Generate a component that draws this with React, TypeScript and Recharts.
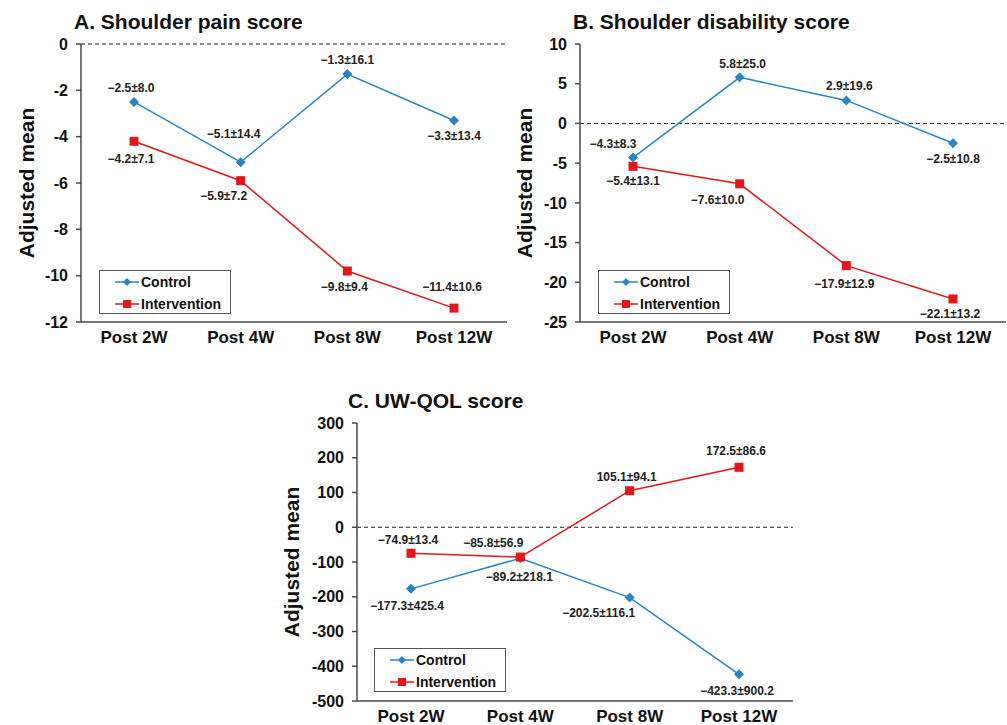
import React from "react";
import {
    LineChart,
    Line,
    XAxis,
    YAxis,
    ReferenceLine,
    LabelList,
    Legend,
} from "recharts";

// time points on the x axis
const timepoints = ["Post 2W", "Post 4W", "Post 8W", "Post 12W"];

// A. shoulder pain
const painControl = [-2.5, -5.1, -1.3, -3.3];
const painControlSd = [8.0, 14.4, 16.1, 13.4];
const painIntervention = [-4.2, -5.9, -9.8, -11.4];
const painInterventionSd = [7.1, 7.2, 9.4, 10.6];
const painTicks = [0, -2, -4, -6, -8, -10, -12];

// B. shoulder disability
const disabilityControl = [-4.3, 5.8, 2.9, -2.5];
const disabilityControlSd = [8.3, 25.0, 19.6, 10.8];
const disabilityIntervention = [-5.4, -7.6, -17.9, -22.1];
const disabilityInterventionSd = [13.1, 10.0, 12.9, 13.2];
const disabilityTicks = [10, 5, 0, -5, -10, -15, -20, -25];

// C. UW-QOL
const qolControl = [-177.3, -89.2, -202.5, -423.3];
const qolControlSd = [425.4, 218.1, 116.1, 900.2];
const qolIntervention = [-74.9, -85.8, 105.1, 172.5];
const qolInterventionSd = [13.4, 56.9, 94.1, 86.6];
const qolTicks = [300, 200, 100, 0, -100, -200, -300, -400, -500];

const BLUE = "#2A84C0";
const RED = "#E3161B";
const AXIS = "#4a4a4a";
const FONT = "'Liberation Sans', Arial, sans-serif";

const fmt = (m: number, sd: number) =>
    `${m < 0 ? "\u2212" : ""}${Math.abs(m).toFixed(1)}\u00B1${sd.toFixed(1)}`;

function buildRows(c: number[], cSd: number[], i: number[], iSd: number[]) {
    return timepoints.map((t, k) => ({
        time: t,
        control: c[k],
        intervention: i[k],
        controlLabel: fmt(c[k], cSd[k]),
        interventionLabel: fmt(i[k], iSd[k]),
    }));
}

const Diamond = (props: any) => {
    const { cx, cy, index } = props;
    if (cx == null || cy == null) return <g key={index} />;
    const r = 5;
    return (
        <polygon
            key={`d${index}`}
            points={`${cx},${cy - r} ${cx + r},${cy} ${cx},${cy + r} ${cx - r},${cy}`}
            fill={BLUE}
        />
    );
};

const Square = (props: any) => {
    const { cx, cy, index } = props;
    if (cx == null || cy == null) return <g key={index} />;
    const s = 9;
    return <rect key={`s${index}`} x={cx - s / 2} y={cy - s / 2} width={s} height={s} fill={RED} />;
};

const makeLabel = (offsets: number[][]) => (p: any) => {
    const { x, y, index, value } = p;
    const [dx, dy] = offsets[index];
    return (
        <text
            key={index}
            x={x + dx}
            y={y + dy}
            textAnchor="middle"
            dominantBaseline="central"
            fontSize={12}
            fontWeight="bold"
            fontFamily={FONT}
            fill="#222"
        >
            {value}
        </text>
    );
};

const LegendBox = () => (
    <div
        style={{
            border: "1.5px solid #555",
            width: 130,
            height: 42,
            background: "#fff",
            fontFamily: FONT,
            fontWeight: "bold",
            fontSize: 14,
            color: "#111",
            position: "relative",
        }}
    >
        {[
            { name: "Control", color: BLUE, diamond: true },
            { name: "Intervention", color: RED, diamond: false },
        ].map((e, k) => (
            <div
                key={e.name}
                style={{ position: "absolute", left: 15, top: 3 + k * 22, height: 16, display: "flex", alignItems: "center" }}
            >
                <svg width={25} height={12}>
                    <line x1={0} y1={6} x2={24} y2={6} stroke={e.color} strokeWidth={1.5} />
                    {e.diamond ? (
                        <polygon points="12,2 16,6 12,10 8,6" fill={e.color} />
                    ) : (
                        <rect x={8} y={2} width={8} height={8} fill={e.color} />
                    )}
                </svg>
                <span style={{ marginLeft: 1, lineHeight: "16px" }}>{e.name}</span>
            </div>
        ))}
    </div>
);

interface PanelProps {
    title: string;
    rows: any[];
    ticks: number[];
    left: number;
    top: number;
    width: number;
    height: number;
    axisWidth: number;
    xAxisHeight: number;
    pad: number;
    marginTop: number;
    marginRight: number;
    labelOffset: number;
    titleX: number;
    titleY: number;
    legendX: number;
    legendY: number;
    ctrlOffsets: number[][];
    intOffsets: number[][];
}

function Panel(p: PanelProps) {
    const tickStyle = { fill: "#111", fontSize: 16, fontWeight: "bold", fontFamily: FONT };
    return (
        <div style={{ position: "absolute", left: p.left, top: p.top, width: p.width, height: p.height }}>
            <div
                style={{
                    position: "absolute",
                    left: p.titleX,
                    top: p.titleY - 12,
                    fontFamily: FONT,
                    fontWeight: "bold",
                    fontSize: 21,
                    lineHeight: "24px",
                    color: "#111",
                    whiteSpace: "nowrap",
                }}
            >
                {p.title}
            </div>
            <LineChart
                width={p.width}
                height={p.height}
                data={p.rows}
                margin={{ top: p.marginTop, right: p.marginRight, left: 0, bottom: 0 }}
            >
                <XAxis
                    dataKey="time"
                    height={p.xAxisHeight}
                    tickLine={false}
                    axisLine={{ stroke: AXIS, strokeWidth: 1.5 }}
                    tick={{ ...tickStyle, fontSize: 17 }}
                    tickMargin={3}
                    padding={{ left: p.pad, right: p.pad }}
                />
                <YAxis
                    width={p.axisWidth}
                    type="number"
                    domain={[p.ticks[p.ticks.length - 1], p.ticks[0]]}
                    ticks={p.ticks}
                    interval={0}
                    tickSize={5}
                    tickMargin={8}
                    tickLine={{ stroke: AXIS, strokeWidth: 1.5 }}
                    axisLine={{ stroke: AXIS, strokeWidth: 1.5 }}
                    tick={tickStyle}
                    label={{
                        value: "Adjusted mean",
                        angle: -90,
                        position: "insideLeft",
                        offset: p.labelOffset,
                        style: { textAnchor: "middle", fontSize: 21, fontWeight: "bold", fontFamily: FONT, fill: "#111" },
                    }}
                />
                <ReferenceLine y={0} stroke="#222" strokeDasharray="4 3" strokeWidth={1} ifOverflow="visible" />
                <Legend
                    layout="vertical"
                    align="center"
                    verticalAlign="middle"
                    wrapperStyle={{ left: p.legendX, top: p.legendY, width: 133, height: 45 }}
                    content={() => <LegendBox />}
                />
                <Line
                    dataKey="control"
                    name="Control"
                    stroke={BLUE}
                    strokeWidth={1.5}
                    dot={Diamond}
                    activeDot={false}
                    isAnimationActive={false}
                >
                    <LabelList dataKey="controlLabel" content={makeLabel(p.ctrlOffsets)} />
                </Line>
                <Line
                    dataKey="intervention"
                    name="Intervention"
                    stroke={RED}
                    strokeWidth={1.5}
                    dot={Square}
                    activeDot={false}
                    isAnimationActive={false}
                >
                    <LabelList dataKey="interventionLabel" content={makeLabel(p.intOffsets)} />
                </Line>
            </LineChart>
        </div>
    );
}

export default function App() {
    return (
        <div style={{ position: "absolute", left: 0, top: 0, width: 1007, height: 725, background: "#fff" }}>
            <Panel
                title="A. Shoulder pain score"
                rows={buildRows(painControl, painControlSd, painIntervention, painInterventionSd)}
                ticks={painTicks}
                left={0}
                top={0}
                width={510}
                height={352}
                axisWidth={81}
                xAxisHeight={30}
                pad={53}
                marginTop={44}
                marginRight={3}
                labelOffset={27}
                titleX={74}
                titleY={22}
                legendX={99}
                legendY={270}
                ctrlOffsets={[[-3, -14], [-7, -28], [0, -14], [0, 16]]}
                intOffsets={[[-3, 18], [-17, 15], [-3, 16], [-2, -21]]}
            />
            <Panel
                title="B. Shoulder disability score"
                rows={buildRows(disabilityControl, disabilityControlSd, disabilityIntervention, disabilityInterventionSd)}
                ticks={disabilityTicks}
                left={500}
                top={0}
                width={507}
                height={352}
                axisWidth={80}
                xAxisHeight={30}
                pad={53}
                marginTop={44}
                marginRight={1}
                labelOffset={25}
                titleX={73}
                titleY={22}
                legendX={98}
                legendY={270}
                ctrlOffsets={[[-20, -14], [3, -13], [3, -14], [0, 16]]}
                intOffsets={[[0, 15], [-22, 16], [-2, 18], [-3, 15]]}
            />
            <Panel
                title="C. UW-QOL score"
                rows={buildRows(qolControl, qolControlSd, qolIntervention, qolInterventionSd)}
                ticks={qolTicks}
                left={270}
                top={380}
                width={530}
                height={345}
                axisWidth={87}
                xAxisHeight={24}
                pad={54}
                marginTop={43}
                marginRight={7}
                labelOffset={22}
                titleX={78}
                titleY={21}
                legendX={104}
                legendY={268}
                ctrlOffsets={[[-4, 17], [-1, 19], [-31, 15], [-2, 17]]}
                intOffsets={[[-3, -13], [-27, -14], [-3, -14], [-3, -16]]}
            />
        </div>
    );
}
